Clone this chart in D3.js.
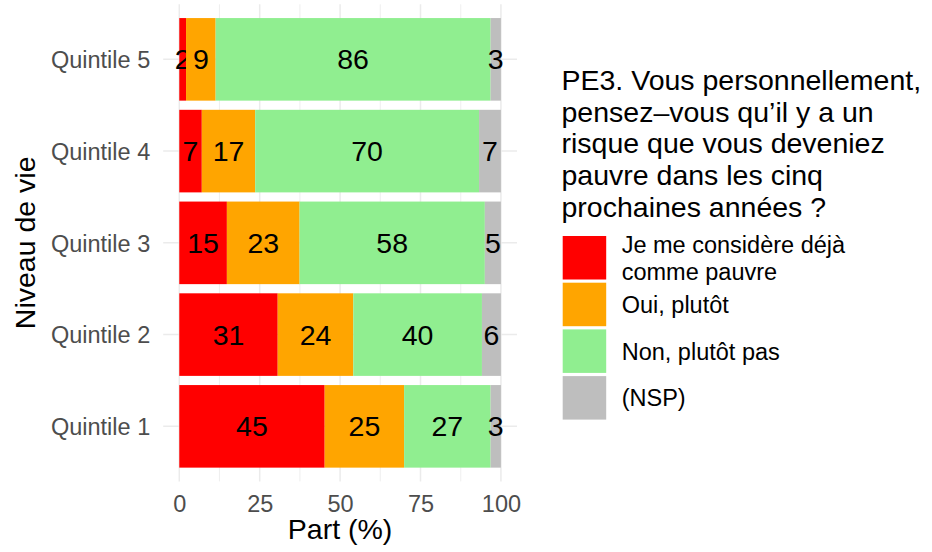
<!DOCTYPE html>
<html>
<head>
<meta charset="utf-8">
<script src="https://cdn.jsdelivr.net/npm/d3@7"></script>
<style>
  body { margin: 0; background: #fff; }
  svg text { font-family: "Liberation Sans", Arial, sans-serif; }
</style>
</head>
<body>
<div id="chart"></div>
<script>

// niveaux de vie (bas -> haut)
var quintiles = ["Quintile 1", "Quintile 2", "Quintile 3", "Quintile 4", "Quintile 5"];

// parts en %
var deja = [45.2, 30.6, 14.8, 7.0, 2.1];
var oui  = [24.7, 23.5, 22.6, 16.6, 9.2];
var non  = [26.9, 40.0, 57.6, 69.6, 85.5];
var nsp  = [3.2, 5.9, 5.0, 6.8, 3.2];

var reponses = ["Je me considère déjà comme pauvre", "Oui, plutôt", "Non, plutôt pas", "(NSP)"];
var couleurs = ["#ff0000", "#ffa500", "#90ee90", "#bebebe"];
var xTicks = [0, 25, 50, 75, 100];

var titreLegende = ["PE3. Vous personnellement,", "pensez\u2013vous qu\u2019il y a un",
  "risque que vous deveniez", "pauvre dans les cinq", "prochaines années ?"];

var svgWidth = 932, svgHeight = 552;
var panel = {left: 163.2, right: 517, top: 4.3, bottom: 481.4};

var svg = d3.select("#chart")
  .append("svg")
  .attr("width", svgWidth)
  .attr("height", svgHeight);

var table = quintiles.map(function(q, i) {
  return {q: q, d0: deja[i], d1: oui[i], d2: non[i], d3: nsp[i]};
});
var keys = ["d0", "d1", "d2", "d3"];
var series = d3.stack().keys(keys)(table);

var x = d3.scaleLinear().domain([-5, 105]).range([panel.left, panel.right]);
var y = d3.scalePoint()
  .domain(quintiles.slice().reverse())
  .range([panel.top, panel.bottom])
  .padding(0.6);
var barH = y.step() * 0.9;

// grille
var minor = [-12.5, 12.5, 37.5, 62.5, 87.5];
svg.append("g").selectAll("line")
  .data(minor.filter(function(v){ return v > -5; }))
  .enter().append("line")
  .attr("x1", d => x(d)).attr("x2", d => x(d))
  .attr("y1", panel.top).attr("y2", panel.bottom)
  .attr("stroke", "#ebebeb").attr("stroke-width", 0.8);

svg.append("g").selectAll("line")
  .data(xTicks)
  .enter().append("line")
  .attr("x1", d => x(d)).attr("x2", d => x(d))
  .attr("y1", panel.top).attr("y2", panel.bottom)
  .attr("stroke", "#ebebeb").attr("stroke-width", 1.5);

svg.append("g").selectAll("line")
  .data(quintiles)
  .enter().append("line")
  .attr("x1", panel.left).attr("x2", panel.right)
  .attr("y1", d => y(d)).attr("y2", d => y(d))
  .attr("stroke", "#ebebeb").attr("stroke-width", 1.5);

// barres
var groups = svg.append("g").selectAll("g")
  .data(series)
  .enter().append("g")
  .attr("fill", (d, i) => couleurs[i]);

groups.selectAll("rect")
  .data(d => d)
  .enter().append("rect")
  .attr("x", d => x(d[0]))
  .attr("width", d => x(d[1]) - x(d[0]))
  .attr("y", d => y(d.data.q) - barH / 2)
  .attr("height", barH);

// etiquettes
groups.selectAll("text")
  .data(d => d.map(function(s){ s.key = d.key; return s; }))
  .enter().append("text")
  .attr("x", d => x((d[0] + d[1]) / 2))
  .attr("y", d => y(d.data.q))
  .attr("dy", "0.35em")
  .attr("text-anchor", "middle")
  .attr("fill", "#000")
  .style("font-size", "28.5px")
  .text(d => Math.round(d[1] - d[0]));

// axes
var xAxis = d3.axisBottom(x).tickValues(xTicks).tickSize(0).tickPadding(14);
svg.append("g")
  .attr("transform", `translate(0, ${panel.bottom})`)
  .call(xAxis)
  .call(g => g.select(".domain").remove())
  .selectAll("text")
  .attr("fill", "#4d4d4d")
  .style("font-size", "23.5px");

var yAxis = d3.axisLeft(y).tickSize(0).tickPadding(13);
svg.append("g")
  .attr("transform", `translate(${panel.left}, 0)`)
  .call(yAxis)
  .call(g => g.select(".domain").remove())
  .selectAll("text")
  .attr("fill", "#4d4d4d")
  .attr("dy", "0.35em")
  .style("font-size", "23.5px");

svg.append("text")
  .attr("x", (panel.left + panel.right) / 2)
  .attr("y", 539)
  .attr("text-anchor", "middle")
  .style("font-size", "28.5px")
  .text("Part (%)");

svg.append("text")
  .attr("transform", `translate(35, ${(panel.top + panel.bottom) / 2}) rotate(-90)`)
  .attr("text-anchor", "middle")
  .style("font-size", "28.5px")
  .text("Niveau de vie");

// legende
var leg = svg.append("g");
leg.selectAll("text.titre")
  .data(titreLegende)
  .enter().append("text")
  .attr("class", "titre")
  .attr("x", 561.5)
  .attr("y", (d, i) => 90 + i * 31.7)
  .style("font-size", "28.5px")
  .text(d => d);

var keyTop = 236, keyStep = 46.7, keySize = 43.5;
var items = leg.selectAll("g.item")
  .data(reponses)
  .enter().append("g")
  .attr("class", "item")
  .attr("transform", (d, i) => `translate(562.7, ${keyTop + i * keyStep})`);

items.append("rect")
  .attr("width", keySize).attr("height", keySize)
  .attr("fill", (d, i) => couleurs[i]);

items.each(function(d) {
  var lines = d === reponses[0] ? ["Je me considère déjà", "comme pauvre"] : [d];
  var g = d3.select(this);
  lines.forEach(function(l, j) {
    g.append("text")
      .attr("x", 59)
      .attr("y", keySize / 2 + 8.4 + (j - (lines.length - 1) / 2) * 26.7)
      .attr("fill", "#000")
      .style("font-size", "23.5px")
      .text(l);
  });
});

</script>
</body>
</html>
